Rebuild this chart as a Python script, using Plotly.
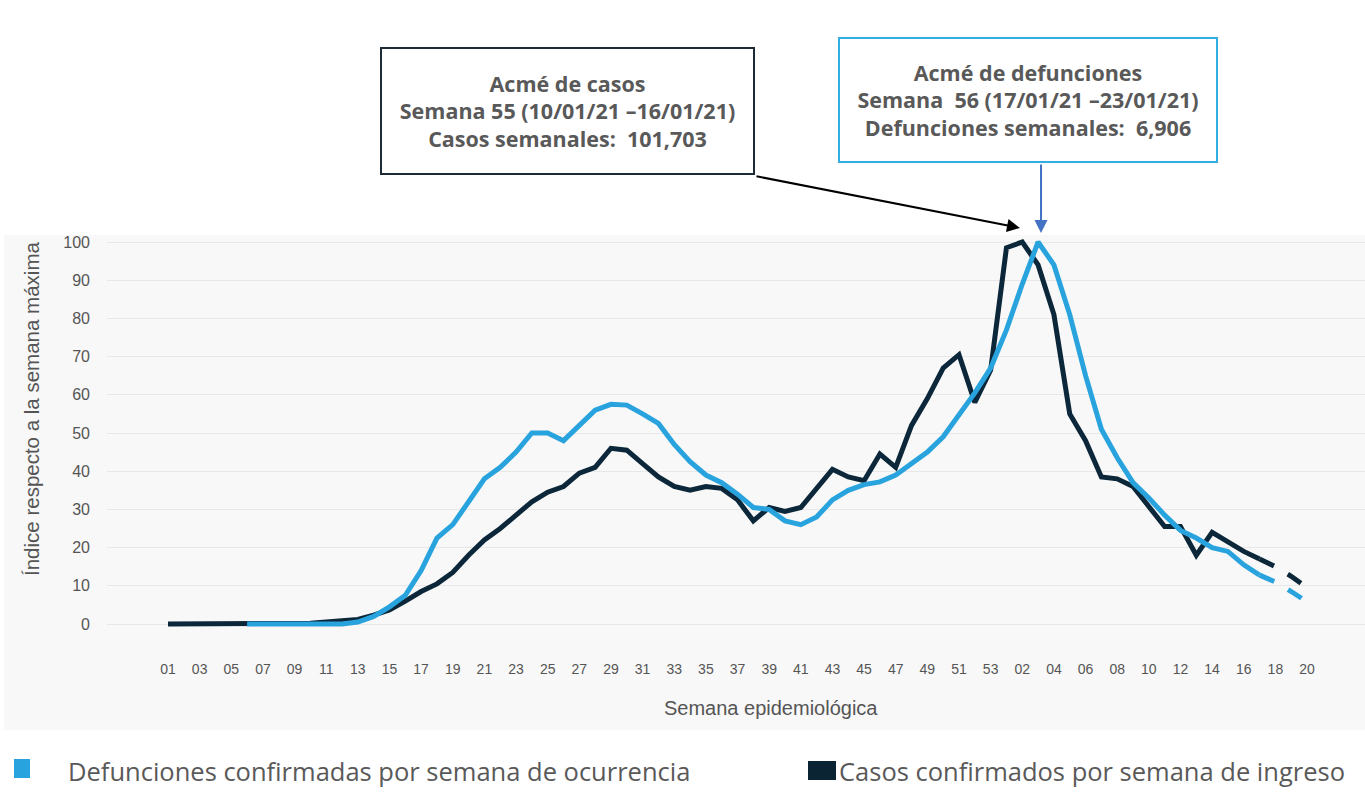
import plotly.graph_objects as go

# ---------------- data ----------------
weeks_y1 = [f"{w:02d}" for w in range(1, 54)]
weeks_y2 = [f"{w:02d}" for w in range(1, 21)]
week_labels = weeks_y1 + weeks_y2

casos = [0, 0, 0, 0, 0, 0, 0, 0, 0, 0.2, 0.5, 0.8, 1.2, 2.3, 3.7, 6, 8.5, 10.5, 13.5, 18,
         22, 25, 28.5, 32, 34.5, 36, 39.5, 41, 46, 45.5, 42, 38.5, 36, 35, 36, 35.5, 32.5, 27,
         30.5, 29.5, 30.5, 35.5, 40.5, 38.5, 37.5, 44.5, 41, 52, 59, 67, 70.5, 58, 66.5,
         98.5, 100, 94, 81, 55, 48, 38.5, 38, 36, 31, 25.5, 25.5, 18, 24, 21.5, 19, 17, 15, 12.5, 9.5]

defunciones = [None, None, None, None, None, 0, 0, 0, 0, 0, 0, 0, 0.5, 2, 4.5, 7.5, 14, 22.5, 26, 32,
               38, 41, 45, 50, 50, 48, 52, 56, 57.5, 57.3, 55, 52.5, 47, 42.5, 39, 37, 34, 30.5,
               30, 27, 26, 28, 32.5, 35, 36.5, 37.2, 39, 42, 45, 49, 54.5, 60.5, 67,
               77, 89, 100, 94, 81, 65, 51, 43.5, 37, 33, 28.5, 24.5, 22.5, 20, 19, 15.5, 12.8, 11, 8.5, 5.8]

solid_last = 69  # index of week 17 (second year); afterwards preliminary (dashed)

y_ticks = [0, 10, 20, 30, 40, 50, 60, 70, 80, 90, 100]

legend_defunciones = "Defunciones confirmadas por semana de ocurrencia"
legend_casos = "Casos confirmados por semana de ingreso"

box_casos = "<b>Acmé de casos<br>Semana 55 (10/01/21 –16/01/21)<br>Casos semanales:  101,703</b>"
box_def = "<b>Acmé de defunciones<br>Semana  56 (17/01/21 –23/01/21)<br>Defunciones semanales:  6,906</b>"

# ---------------- styling ----------------
BLUE = "#29a3dd"
DARK = "#0b2739"
GRAY_TXT = "#595959"
BG = "#f8f8f8"
TXT_FONT = "Open Sans, Noto Sans, sans-serif"

W, H = 1365, 797
ML, MR, MT, MB = 107, 0, 236, 142
PW, PH = W - ML - MR, H - MT - MB


def px(x):
    return (x - ML) / PW


def py(y):
    return (H - MB - y) / PH


xs = list(range(len(week_labels)))
tickvals = xs[0::2]
ticktext = week_labels[0::2]

fig = go.Figure()

fig.add_trace(go.Scatter(x=xs[:solid_last + 1], y=casos[:solid_last + 1], mode="lines",
                         line=dict(color=DARK, width=5), name=legend_casos))
fig.add_trace(go.Scatter(x=xs[solid_last:], y=casos[solid_last:], mode="lines",
                         line=dict(color=DARK, width=5, dash="16px,16px"), showlegend=False))
fig.add_trace(go.Scatter(x=xs[:solid_last + 1], y=defunciones[:solid_last + 1], mode="lines",
                         line=dict(color=BLUE, width=5), name=legend_defunciones))
fig.add_trace(go.Scatter(x=xs[solid_last:], y=defunciones[solid_last:], mode="lines",
                         line=dict(color=BLUE, width=5, dash="16px,16px"), showlegend=False))

x_left = (ML - 168) / 15.82
x_right = (W - MR - 168) / 15.82
y_bottom = (624 - (H - MB)) / 3.82
y_top = (624 - MT) / 3.82

fig.update_layout(
    width=W, height=H,
    margin=dict(l=ML, r=MR, t=MT, b=MB),
    paper_bgcolor="white",
    plot_bgcolor=BG,
    showlegend=False,
    font=dict(family="Liberation Sans, Arial, sans-serif", color=GRAY_TXT),
    xaxis=dict(range=[x_left, x_right], tickvals=tickvals, ticktext=ticktext,
               showgrid=False, zeroline=False, showline=False, ticks="",
               tickfont=dict(size=14, color="#555555"), ticklabelstandoff=4),
    yaxis=dict(range=[y_bottom, y_top], tickvals=y_ticks, showgrid=True,
               gridcolor="#e8e8e8", gridwidth=1, zeroline=False, showline=False,
               ticks="", tickfont=dict(size=16, color="#555555"), ticklabelstandoff=16),
)

shapes = []
# gray panel behind chart (extends beyond plot area)
shapes.append(dict(type="rect", xref="paper", yref="paper", x0=px(4), x1=px(1365),
                   y0=py(730), y1=py(235), fillcolor=BG, line=dict(width=0), layer="below"))
# legend squares
shapes.append(dict(type="rect", xref="paper", yref="paper", x0=px(14), x1=px(30),
                   y0=py(778), y1=py(759), fillcolor=BLUE, line=dict(width=0)))
shapes.append(dict(type="rect", xref="paper", yref="paper", x0=px(808), x1=px(836),
                   y0=py(780), y1=py(761), fillcolor="#0a2433", line=dict(width=0)))
fig.update_layout(shapes=shapes)

ann = []
ann.append(dict(text="Índice respecto a la semana máxima", xref="paper", yref="paper",
                x=px(31), y=py(409), textangle=-90, showarrow=False,
                font=dict(size=20.5, color="#555555"), xanchor="center", yanchor="middle"))
ann.append(dict(text="Semana epidemiológica", xref="paper", yref="paper",
                x=px(771), y=py(708), showarrow=False,
                font=dict(size=20, color="#555555"), xanchor="center", yanchor="middle"))
ann.append(dict(text=legend_defunciones, xref="paper", yref="paper", x=px(66), y=py(771),
                showarrow=False, xanchor="left", yanchor="middle",
                font=dict(size=25.5, color=GRAY_TXT, family=TXT_FONT)))
ann.append(dict(text=legend_casos, xref="paper", yref="paper", x=px(837), y=py(771),
                showarrow=False, xanchor="left", yanchor="middle",
                font=dict(size=25.5, color=GRAY_TXT, family=TXT_FONT)))
# boxes
ann.append(dict(text=box_casos, xref="paper", yref="paper", x=px(567.5), y=py(111),
                showarrow=False, xanchor="center", yanchor="middle", width=371, height=124,
                bordercolor="#1c2b36", borderwidth=2, borderpad=0, bgcolor="white",
                font=dict(size=21.5, color=GRAY_TXT, family=TXT_FONT)))
ann.append(dict(text=box_def, xref="paper", yref="paper", x=px(1027.5), y=py(100),
                showarrow=False, xanchor="center", yanchor="middle", width=376, height=122,
                bordercolor="#33aee3", borderwidth=2, borderpad=0, bgcolor="white",
                font=dict(size=21.5, color=GRAY_TXT, family=TXT_FONT)))
# arrows
ann.append(dict(text="", xref="paper", yref="paper", x=px(1020), y=py(228),
                ax=755 - 1020, ay=176 - 228, showarrow=True, arrowhead=2, arrowsize=1.3,
                arrowwidth=2, arrowcolor="black"))
ann.append(dict(text="", xref="paper", yref="paper", x=px(1041), y=py(233),
                ax=0, ay=163 - 233, showarrow=True, arrowhead=2, arrowsize=1.3,
                arrowwidth=2, arrowcolor="#4472c4"))
fig.update_layout(annotations=ann)

fig.write_html("out.html", config={"displayModeBar": False},
               post_script="document.body.style.margin='0';")
